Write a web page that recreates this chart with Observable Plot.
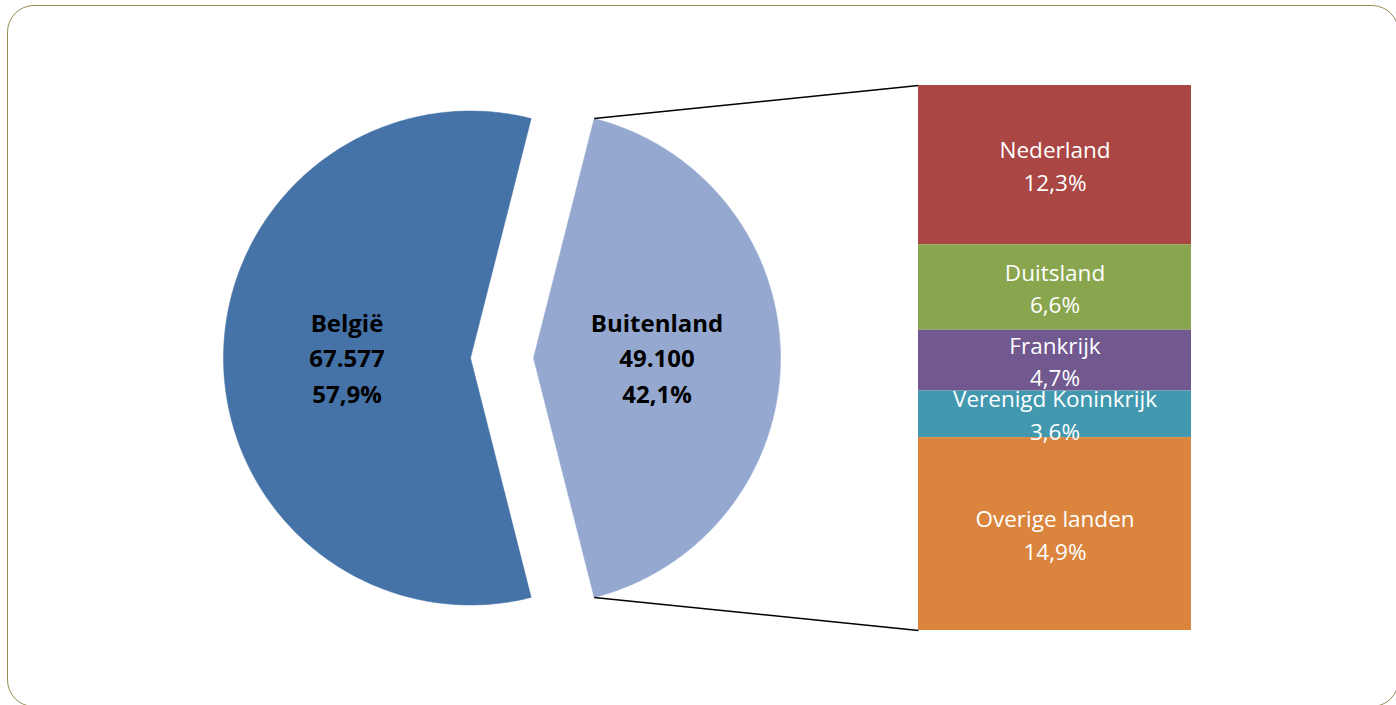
<!DOCTYPE html>
<html>
<head>
<meta charset="utf-8">
<script src="https://cdn.jsdelivr.net/npm/d3@7"></script>
<script src="https://cdn.jsdelivr.net/npm/@observablehq/plot@0.6"></script>
<style>
  html, body { margin: 0; padding: 0; background: #fff; overflow: hidden; }
  #wrap { position: relative; width: 1396px; height: 705px; }
  #frame { position: absolute; left: 7px; top: 5px; width: 1392px; height: 702px;
           border: 1.5px solid #948A54; border-radius: 27px; box-sizing: border-box; pointer-events: none; }
  #chart { position: absolute; left: 0; top: 0; }
</style>
</head>
<body>
<div id="wrap"><div id="chart"></div><div id="frame"></div></div>
<script>
// ---- data ----
const pieLabels = ["België", "Buitenland"];
const pieCounts = [67577, 49100];
const piePct = [57.9, 42.1];
const pieColors = ["#4572A7", "#95A9D0"];

const barLabels = ["Nederland", "Duitsland", "Frankrijk", "Verenigd Koninkrijk", "Overige landen"];
const barPct = [12.3, 6.6, 4.7, 3.6, 14.9];
const barColors = ["#AA4643", "#89A54E", "#71588F", "#4198AF", "#DB843D"];

// ---- layout (units: percentage points, same scale on x and y) ----
const W = 1396, H = 705;
const total = d3.sum(barPct);             // 42.1 — bar height
const k = 545 / total;                    // px per unit
const barX0 = 918 / k, barX1 = 1191 / k;
const cy = total / 2;
const r = 247 / k;
const centers = [470 / k, 533 / k];       // België, Buitenland (exploded)

const fmtPct = v => v.toFixed(1).replace(".", ",") + "%";
const fmtCount = v => d3.format(",")(v).replace(/,/g, ".");

// pie slices: Buitenland centered on the right, België the rest
const phi = Math.PI * piePct[1] / 100;
const spans = [[phi, 2 * Math.PI - phi], [-phi, phi]];
const piePts = [];
pieLabels.forEach((name, i) => {
  const [a0, a1] = spans[i], cx = centers[i];
  piePts.push({slice: name, color: pieColors[i], x: cx, y: cy});
  const n = 240;
  for (let j = 0; j <= n; j++) {
    const a = a0 + (a1 - a0) * j / n;
    piePts.push({slice: name, color: pieColors[i], x: cx + r * Math.cos(a), y: cy - r * Math.sin(a)});
  }
  piePts.push({slice: name, color: pieColors[i], x: cx, y: cy});
});
const pieText = pieLabels.map((name, i) => {
  const mid = (spans[i][0] + spans[i][1]) / 2;
  return {
    x: centers[i] + 0.5 * r * Math.cos(mid),
    y: cy - 0.5 * r * Math.sin(mid),
    text: `${name}\n${fmtCount(pieCounts[i])}\n${fmtPct(piePct[i])}`
  };
});

// stacked bar
let acc = 0;
const bars = barLabels.map((name, i) => {
  const d = {name, y1: acc, y2: acc + barPct[i], color: barColors[i], text: `${name}\n${fmtPct(barPct[i])}`};
  acc += barPct[i];
  return d;
});

// connector lines
const ex = centers[1] + r * Math.cos(phi);
const links = [
  {x1: ex, y1: cy - r * Math.sin(phi), x2: barX0, y2: 0},
  {x1: ex, y1: cy + r * Math.sin(phi), x2: barX0, y2: total}
];

const chart = Plot.plot({
  width: W, height: H,
  marginTop: 0, marginRight: 0, marginBottom: 0, marginLeft: 0,
  x: {domain: [0, W / k], range: [0, W], axis: null},
  y: {domain: [0, total], range: [85, 630], axis: null},
  color: {type: "identity"},
  style: {background: "transparent", overflow: "visible"},
  marks: [
    Plot.line(piePts, {x: "x", y: "y", z: "slice", fill: "color", stroke: "color", strokeWidth: 0.5, curve: "linear"}),
    Plot.link(links, {x1: "x1", y1: "y1", x2: "x2", y2: "y2", stroke: "#000", strokeWidth: 1.6}),
    Plot.rect(bars, {x1: barX0, x2: barX1, y1: "y1", y2: "y2", fill: "color"}),
    Plot.text(bars, {x: (barX0 + barX1) / 2, y: d => (d.y1 + d.y2) / 2, text: "text", fill: "#fff",
      fontSize: 22.5, lineHeight: 1.44, fontFamily: "Open Sans", dy: -1}),
    Plot.text(pieText, {x: "x", y: "y", text: "text", fill: "#000", fontWeight: "bold",
      fontSize: 24, lineHeight: 1.47, fontFamily: "Open Sans", dy: -2})
  ]
});
document.getElementById("chart").appendChild(chart);
</script>
</body>
</html>
